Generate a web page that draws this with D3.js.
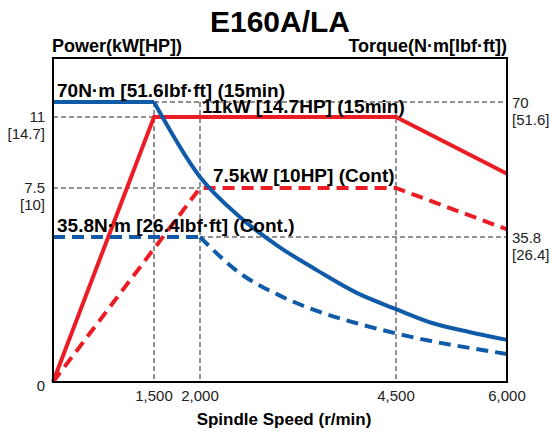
<!DOCTYPE html>
<html lang="en">
<head>
<meta charset="UTF-8">
<title>E160A/LA</title>
<script src="https://d3js.org/d3.v7.min.js"></script>
<style>
  body { margin: 0; background: #fff; }
  text { font-family: "Liberation Sans", Arial, sans-serif; fill: #000; }
  .tick { font-size: 15px; fill: #222; }
  .bold { font-weight: bold; }
</style>
</head>
<body>
<div id="chart"></div>
<script>
// speed ticks (r/min)
const speedTicks = [0, 1500, 2000, 4500, 6000];
const speedLabels = ["", "1,500", "2,000", "4,500", "6,000"];

// power, 15 min rating (kW)
const p15Speed = [0, 1500, 4500, 6000];
const p15Kw = [0, 11, 11, 8.2];
// power, continuous (kW)
const pContSpeed = [0, 2000, 4500, 6000];
const pContKw = [0, 7.5, 7.5, 5.9];

// torque, 15 min rating (N·m)
const t15Speed = [0, 1500, 2000, 2500, 3000, 3500, 4000, 4500, 5000, 5500, 6000];
const t15Nm = [70, 70, 51, 41, 33.5, 27.5, 22, 18, 14.5, 12.3, 10.4];
// torque, continuous (N·m)
const tContSpeed = [0, 2000, 2500, 3000, 3500, 4000, 4500, 5000, 5500, 6000];
const tContNm = [35.8, 35.8, 27, 21.5, 17.5, 14.5, 12, 10, 8.4, 6.9];

const powerTicks = [0, 7.5, 11];
const powerLabels = [["0"], ["7.5", "[10]"], ["11", "[14.7]"]];
const torqueTicks = [35.8, 70];
const torqueLabels = [["35.8", "[26.4]"], ["70", "[51.6]"]];

const W = 549, H = 432;
const svg = d3.select("#chart").append("svg")
  .attr("width", W).attr("height", H);

// the original chart axes are not evenly spaced, so piecewise scales
const x = d3.scaleLinear().domain(speedTicks).range([53, 154, 200, 396, 507]);
const yP = d3.scaleLinear().domain(powerTicks).range([382, 188, 117]);
const yT = d3.scaleLinear().domain([0, 35.8, 70]).range([382, 237, 102]);

const plotTop = 58;
const red = "#ec1c24", blue = "#0f5ba8";

// title and axis titles
svg.append("text").attr("class", "bold")
  .attr("x", 280).attr("y", 32).attr("text-anchor", "middle")
  .attr("font-size", "30px").text("E160A/LA");
svg.append("text").attr("class", "bold")
  .attr("x", 52).attr("y", 52).attr("font-size", "18px").text("Power(kW[HP])");
svg.append("text").attr("class", "bold")
  .attr("x", 507).attr("y", 52).attr("text-anchor", "end")
  .attr("font-size", "18px").text("Torque(N·m[lbf·ft])");
svg.append("text").attr("class", "bold")
  .attr("x", 284).attr("y", 425).attr("text-anchor", "middle")
  .attr("font-size", "17px").text("Spindle Speed (r/min)");

// guide lines
const guides = svg.append("g")
  .attr("stroke", "#222").attr("stroke-width", 1).attr("stroke-dasharray", "5,3").attr("fill", "none");
guides.append("line").attr("x1", x(0)).attr("x2", x(1500)).attr("y1", yP(11)).attr("y2", yP(11));
guides.append("line").attr("x1", x(0)).attr("x2", x(2000)).attr("y1", yP(7.5)).attr("y2", yP(7.5));
guides.append("line").attr("x1", x(1500)).attr("x2", x(6000)).attr("y1", yT(70)).attr("y2", yT(70));
guides.append("line").attr("x1", x(2000)).attr("x2", x(6000)).attr("y1", yT(35.8)).attr("y2", yT(35.8));
[1500, 2000, 4500].forEach(s => {
  guides.append("line").attr("x1", x(s)).attr("x2", x(s)).attr("y1", yT(70)).attr("y2", yP(0));
});

// curves
const zip = (a, b) => a.map((v, i) => [v, b[i]]);
const lineP = d3.line().x(d => x(d[0])).y(d => yP(d[1]));
const lineT = d3.line().x(d => x(d[0])).y(d => yT(d[1]));
const curveT = d3.line().x(d => x(d[0])).y(d => yT(d[1])).curve(d3.curveMonotoneX);

svg.append("path").attr("d", lineP(zip(pContSpeed, pContKw)))
  .attr("fill", "none").attr("stroke", red).attr("stroke-width", 4)
  .attr("stroke-dasharray", "12,7");
svg.append("path").attr("d", lineP(zip(p15Speed, p15Kw)))
  .attr("fill", "none").attr("stroke", red).attr("stroke-width", 4);

function drawTorque(sp, nm, dashed) {
  const pts = zip(sp, nm);
  const g = svg.append("g").attr("fill", "none").attr("stroke", blue)
    .attr("stroke-width", 4).attr("stroke-dasharray", dashed ? "12,7" : null);
  g.append("path").attr("d", lineT(pts.slice(0, 2)));
  g.append("path").attr("d", curveT(pts.slice(1)));
}
drawTorque(tContSpeed, tContNm, true);
drawTorque(t15Speed, t15Nm, false);

// frame
svg.append("rect").attr("x", x(0)).attr("y", plotTop)
  .attr("width", x(6000) - x(0)).attr("height", yP(0) - plotTop)
  .attr("fill", "none").attr("stroke", "#000").attr("stroke-width", 2);

// curve annotations
const notes = [
  ["70N·m [51.6lbf·ft] (15min)", 57, 97],
  ["11kW [14.7HP] (15min)", 202, 113],
  ["7.5kW [10HP] (Cont)", 213, 182],
  ["35.8N·m [26.4lbf·ft] (Cont.)", 57, 232]
];
svg.selectAll(".note").data(notes).enter().append("text")
  .attr("class", "note bold").attr("font-size", "19px")
  .attr("x", d => d[1]).attr("y", d => d[2]).text(d => d[0]);

// left tick labels
powerTicks.forEach((v, i) => {
  powerLabels[i].forEach((s, j) => {
    svg.append("text").attr("class", "tick").attr("text-anchor", "end")
      .attr("x", 45).attr("y", yP(v) + 5 + j * 17 + (v === 0 ? 4 : 0)).text(s);
  });
});
// right tick labels
torqueTicks.forEach((v, i) => {
  torqueLabels[i].forEach((s, j) => {
    svg.append("text").attr("class", "tick").attr("font-size", "14px")
      .attr("x", 512).attr("y", yT(v) + 6 + j * 17).text(s);
  });
});
// bottom tick labels
speedTicks.forEach((v, i) => {
  svg.append("text").attr("class", "tick").attr("text-anchor", "middle")
    .attr("x", x(v)).attr("y", 401).text(speedLabels[i]);
});
</script>
</body>
</html>
